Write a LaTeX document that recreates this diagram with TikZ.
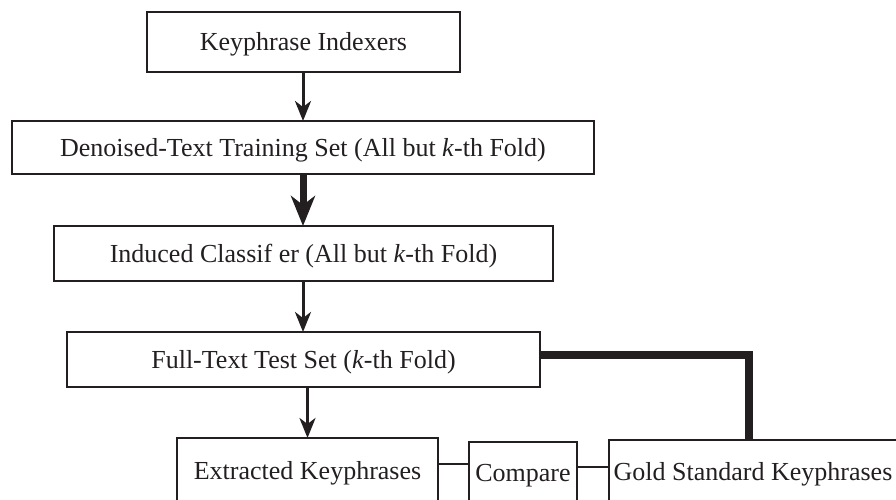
\documentclass[tikz,border=0pt]{standalone}
\usepackage{fontspec}
\setmainfont{Liberation Serif}
\usetikzlibrary{arrows.meta}
\definecolor{ink}{RGB}{35,31,32}
\begin{document}
\begin{tikzpicture}[x=1pt,y=-1pt, color=ink,
  box/.style={draw, line width=1.6pt, inner sep=0pt, outer sep=0pt,
    text height=17pt, text depth=0pt, font=\fontsize{26pt}{30pt}\selectfont},
  thinarrow/.style={line width=3pt, -{Stealth[length=20pt,width=16pt,inset=6pt]}},
  thickarrow/.style={line width=7pt, -{Stealth[length=30pt,width=24pt,inset=9pt]}},
  thickline/.style={line width=7.5pt},
  thinline/.style={line width=1.8pt}]
\useasboundingbox (0,0) rectangle (896,500);
\node[box, minimum width=313pt, minimum height=60pt] (idx) at (303.5,42) {Keyphrase Indexers};
\node[box, minimum width=582pt, minimum height=53pt] (train) at (303,147.5) {Denoised-Text Training Set (All but \textit{k}-th Fold)};
\node[box, minimum width=499pt, minimum height=55pt] (clf) at (303.5,253.5) {Induced Classif er (All but \textit{k}-th Fold)};
\node[box, minimum width=473pt, minimum height=55pt] (test) at (303.5,359.5) {Full-Text Test Set (\textit{k}-th Fold)};
\node[box, minimum width=261pt, minimum height=66pt] (ext) at (307.5,471) {Extracted Keyphrases};
\node[box, minimum width=108pt, minimum height=62pt] (cmp) at (523,473) {Compare};
\node[box, minimum width=288pt, minimum height=64pt] (gold) at (753,472) {Gold Standard Keyphrases};
\coordinate (corner) at (749,355);
\coordinate (l1) at (0,464);
\coordinate (l2) at (0,467);
\draw[thinarrow] (idx.south -| 303,0) -- (train.north -| 303,0);
\draw[thickarrow] (train.south -| 303,0) -- (clf.north -| 303,0);
\draw[thinarrow] (clf.south -| 303,0) -- (test.north -| 303,0);
\draw[thinarrow] (test.south -| ext.north) -- (ext.north);
\draw[thickline] (test.east |- corner) -- (corner) -- (corner |- gold.north);
\draw[thinline] (ext.east |- l1) -- (cmp.west |- l1);
\draw[thinline] (cmp.east |- l2) -- (gold.west |- l2);
\end{tikzpicture}
\end{document}
